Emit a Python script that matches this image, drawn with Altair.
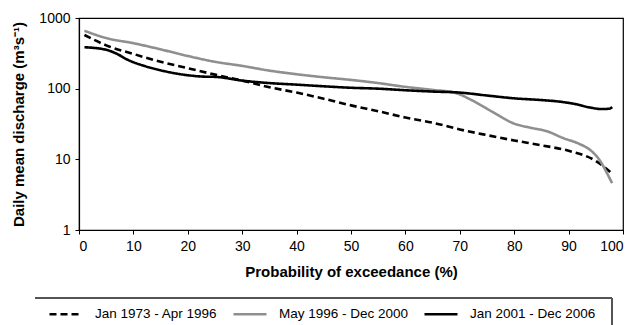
import altair as alt
import pandas as pd

series_names = ["Jan 1973 - Apr 1996", "May 1996 - Dec 2000", "Jan 2001 - Dec 2006"]

x_a = [1, 5, 10, 15, 20, 25, 30, 35, 40, 45, 50, 55, 60, 65, 70, 75, 80, 85, 90, 95, 98]
y_a = [575, 410, 310, 240, 195, 158, 130, 105, 88, 72, 58, 48, 39, 33, 26.5, 22, 18.5, 15.8, 13.2, 9.5, 6.3]

x_b = [1, 5, 10, 15, 20, 25, 30, 35, 40, 45, 50, 55, 60, 65, 69, 72, 76, 80, 83, 86, 89, 92, 94, 96, 97, 98]
y_b = [660, 520, 440, 360, 290, 240, 210, 180, 160, 145, 133, 120, 106, 96, 88, 70, 47, 32, 28, 25, 20, 16.5, 13.5, 9, 6.5, 4.6]

x_c = [1, 5, 7, 9, 12, 15, 20, 23, 25, 30, 35, 40, 45, 50, 55, 60, 65, 70, 75, 80, 85, 88, 91, 94, 96, 97.5, 98]
y_c = [386, 355, 310, 255, 210, 182, 155, 148, 147, 130, 120, 114, 108, 103, 100, 95, 91, 88, 80, 73, 69, 66, 61, 54, 51.5, 52, 55]

x_ticks = [0, 10, 20, 30, 40, 50, 60, 70, 80, 90, 100]
y_ticks = [1, 10, 100, 1000]

rows = []
for name, xs, ys in zip(series_names, [x_a, x_b, x_c], [y_a, y_b, y_c]):
    for i, (xv, yv) in enumerate(zip(xs, ys)):
        rows.append({"series": name, "p": xv, "q": yv, "order": i})
df = pd.DataFrame(rows)

font = "Liberation Sans"

legend_opts = dict(title=None, orient="none", legendX=-31, legendY=278,
                   direction="horizontal", columns=3, symbolType="stroke",
                   symbolSize=1089, symbolStrokeWidth=2.6, labelOffset=11,
                   columnPadding=10, padding=0,
                   labelFontSize=13.5, labelFont=font, labelColor="#000000")

lines = alt.Chart(df).mark_line(interpolate="monotone", strokeWidth=2.6).encode(
    x=alt.X("p:Q", scale=alt.Scale(domain=[0, 100], nice=False),
            axis=alt.Axis(title="Probability of exceedance (%)", values=x_ticks, format="d",
                          grid=False, tickSize=4, labelPadding=5, titlePadding=11)),
    y=alt.Y("q:Q", scale=alt.Scale(type="log", domain=[1, 1000], nice=False),
            axis=alt.Axis(title="Daily mean discharge (m³s⁻¹)", values=y_ticks, format="d",
                          grid=False, tickSize=4, labelPadding=5, titlePadding=12)),
    color=alt.Color("series:N", scale=alt.Scale(domain=series_names, range=["#000000", "#8f8f8f", "#000000"]),
                    legend=alt.Legend(**legend_opts)),
    strokeDash=alt.StrokeDash("series:N", scale=alt.Scale(domain=series_names, range=[[7, 4], [1, 0], [1, 0]]),
                              legend=alt.Legend(**legend_opts)),
    order="order:Q",
)

box_top = alt.Chart(df).mark_rule(color="#555555", strokeWidth=1).encode(
    x=alt.value(-44), x2=alt.value(533), y=alt.value(280)
)
box_right = alt.Chart(df).mark_rule(color="#555555", strokeWidth=1).encode(
    x=alt.value(533), y=alt.value(280), y2=alt.value(310)
)

chart = alt.layer(lines, box_top, box_right).properties(
    width=544, height=212,
    autosize=alt.AutoSizeParams(type="none"),
    padding={"left": 79, "top": 18, "right": 12, "bottom": 95},
).configure_view(
    stroke="#000000", strokeWidth=1.2
).configure_axis(
    labelFont=font, labelFontSize=14, labelColor="#000000",
    titleFont=font, titleFontSize=15, titleFontWeight="bold", titleColor="#000000",
    domainColor="#000000", domainWidth=1.2, tickColor="#000000", tickWidth=1,
)

chart.save("out.html", embed_options={"renderer": "svg", "actions": False})
